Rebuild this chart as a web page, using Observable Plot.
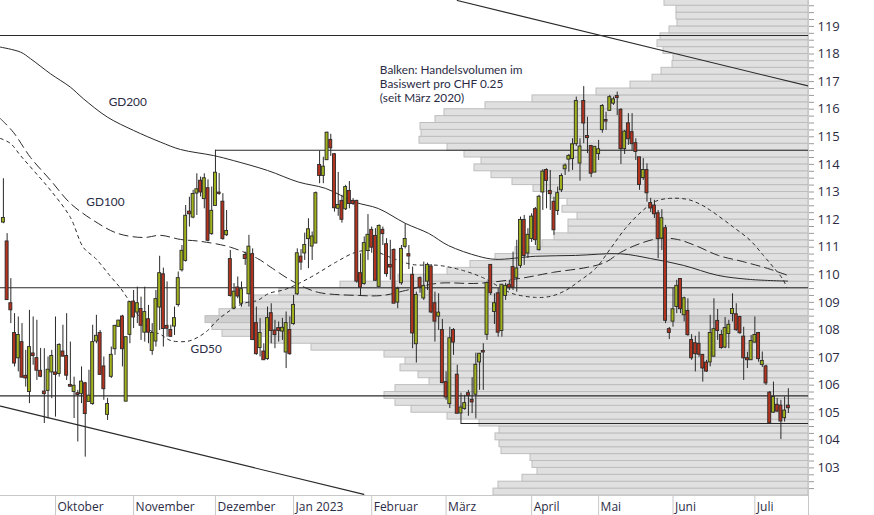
<!DOCTYPE html>
<html><head><meta charset="utf-8">
<script src="https://cdn.jsdelivr.net/npm/d3@7"></script>
<script src="https://cdn.jsdelivr.net/npm/@observablehq/plot@0.6"></script>
<style>
body{margin:0;background:#fff;}
#wrap{position:relative;width:874px;height:515px;overflow:hidden;}
#wrap svg{position:absolute;left:0;top:0;}
</style></head><body><div id="wrap"></div>
<script>
// trading-day index of first candle (0 = 3 Oct 2022)
const firstDay = -14;
const opens = [111.91,111.19,108.95,107.87,106.99,107.54,106.32,105.77,107.13,106.96,106.50,105.75,105.81,106.48,
106.44,106.42,107.20,107.04,105.99,105.77,105.69,105.69,106.05,105.41,105.33,107.60,107.87,106.66,104.94,106.32,107.32,108.13,108.47,105.42,107.84,
109.01,108.65,108.74,107.92,108.37,107.26,107.60,108.83,110.00,108.13,107.98,108.14,108.92,110.18,110.52,112.27,112.09,112.96,113.39,112.76,113.12,111.49,
112.51,112.96,112.63,111.45,110.55,108.79,109.52,108.97,110.70,109.31,110.73,108.23,107.36,107.20,106.96,108.59,107.96,108.05,107.96,107.20,107.98,
108.23,109.31,110.64,110.79,111.31,111.04,111.15,113.96,113.60,114.17,114.87,114.35,112.41,112.66,112.39,113.02,112.66,112.66,110.04,109.68,110.88,
111.61,111.39,109.58,111.61,111.09,110.34,110.88,109.01,109.71,111.03,110.73,109.98,107.50,109.86,109.16,109.77,110.28,108.95,108.50,107.98,
106.09,105.33,107.98,106.36,104.99,105.15,105.69,105.45,105.67,106.84,107.22,107.84,110.34,108.67,109.31,107.98,109.25,109.62,110.26,109.89,110.34,111.97,110.79,
111.31,112.36,110.91,113.00,113.78,113.02,112.63,112.33,113.08,113.84,114.19,114.21,114.75,114.05,116.28,115.01,114.65,113.72,
114.39,115.26,115.59,115.96,116.22,116.46,115.96,114.57,115.47,115.15,114.75,114.24,113.52,113.78,112.58,112.49,112.21,111.33,111.67,108.01,
108.32,108.85,109.83,108.55,108.67,107.62,107.50,107.48,107.08,106.80,106.84,107.05,108.31,107.80,107.38,107.87,108.59,108.55,108.45,107.74,106.96,106.92,
107.56,107.87,106.75,106.66,105.71,105.02,105.27,105.24,104.82,105.24];
const highs = [113.48,111.49,109.86,108.59,108.47,108.23,107.26,108.71,108.47,108.35,107.33,107.32,107.02,107.26,
108.47,107.50,108.17,108.59,107.56,106.29,105.81,106.66,106.10,106.54,108.17,108.53,107.98,107.02,105.52,107.38,108.17,108.35,108.53,107.74,109.01,
109.43,109.55,109.19,109.55,108.89,108.23,109.43,110.67,110.24,109.74,108.17,108.83,110.10,111.06,112.51,112.81,113.06,113.66,113.54,113.66,113.44,113.18,
114.51,113.67,112.94,112.33,110.88,109.68,109.92,109.74,110.82,111.43,110.94,108.83,108.41,107.50,108.83,108.95,108.35,108.29,108.42,108.65,108.47,
109.25,110.94,110.91,111.51,112.03,111.55,113.00,114.48,114.26,115.17,115.09,114.39,113.71,112.88,113.24,113.38,112.76,112.70,110.76,111.37,112.18,
111.73,111.67,111.81,111.73,111.31,111.25,110.94,109.55,111.06,111.85,111.06,110.28,109.37,109.92,110.46,110.42,110.37,109.37,109.31,108.38,
106.48,108.10,108.05,106.72,105.71,105.63,105.81,106.27,107.16,107.15,107.50,109.74,110.37,109.31,109.50,109.65,109.69,109.80,110.82,111.25,112.09,112.15,111.67,
112.21,112.44,112.88,113.81,113.84,113.78,112.81,113.18,113.66,114.02,114.36,114.93,116.44,114.93,116.82,115.71,114.69,114.62,
114.87,116.17,115.89,116.50,116.44,116.62,116.02,115.23,115.84,115.84,114.93,114.25,114.21,114.02,112.77,112.70,112.33,112.36,111.79,108.09,
109.50,109.80,109.86,109.19,109.13,107.83,107.77,107.92,107.08,106.90,108.53,109.13,108.74,107.98,108.45,108.35,109.31,108.95,108.49,108.10,107.19,107.80,
108.47,107.91,107.20,106.72,105.77,106.11,105.52,105.45,105.57,105.87];
const lows = [111.85,109.07,108.23,106.66,106.48,106.25,105.93,105.33,106.72,106.17,106.27,104.61,104.78,105.51,
104.84,106.29,107.02,106.17,105.93,104.79,103.94,105.33,103.39,105.39,105.27,107.50,106.36,105.45,104.72,106.24,107.08,108.13,106.66,105.39,107.50,
108.05,108.23,107.62,107.56,107.50,107.08,107.38,107.98,107.38,107.74,107.73,107.80,108.83,110.10,110.46,111.73,112.03,112.15,112.82,112.39,111.19,111.43,
112.48,112.88,111.25,111.39,109.19,108.73,109.13,108.83,110.34,108.83,107.62,107.08,107.02,106.90,106.90,107.50,107.32,107.56,107.62,106.60,107.08,
108.17,109.25,110.16,110.52,110.22,110.52,111.13,113.30,113.30,114.14,114.29,112.27,112.12,111.87,112.33,112.39,112.51,109.69,109.25,109.62,110.52,
110.78,109.77,109.55,111.06,109.91,109.80,108.95,108.77,109.62,110.94,110.19,107.32,106.80,109.33,109.07,109.43,108.59,107.56,107.98,106.05,
105.45,105.15,107.08,104.97,104.61,105.09,104.87,104.97,104.78,105.81,105.81,107.62,109.25,108.20,107.74,107.74,109.07,109.43,109.43,109.37,110.23,110.34,110.59,
111.17,111.06,110.86,112.33,112.39,112.33,111.43,112.15,112.98,113.60,113.72,113.78,114.65,113.39,114.75,114.39,113.52,113.71,
114.14,115.13,115.23,115.93,116.14,115.77,114.00,114.36,114.69,114.51,114.14,113.06,113.42,112.63,112.26,112.04,110.58,110.88,108.23,107.65,
108.10,108.59,108.59,108.29,107.77,106.90,106.48,107.01,106.11,106.46,106.66,107.01,107.62,107.30,107.32,107.32,108.29,107.95,107.84,106.17,106.60,106.90,
107.52,106.83,106.64,105.99,104.62,104.98,105.01,104.03,104.66,104.97];
const closes = [112.04,109.10,108.73,106.80,107.80,106.29,106.26,107.36,107.07,106.54,106.32,105.69,106.54,107.04,
106.39,107.44,107.05,106.36,105.96,105.96,105.66,106.11,104.97,105.60,107.54,107.77,106.39,105.87,105.30,107.08,108.13,108.32,107.32,107.72,108.99,
108.47,108.95,108.17,108.63,107.92,107.87,109.10,110.04,108.05,108.06,107.77,108.41,109.86,110.85,112.12,112.21,112.91,113.08,113.00,113.48,111.25,112.30,
113.68,112.95,111.31,111.57,109.25,109.37,109.23,109.46,110.59,111.00,107.65,107.14,107.87,106.92,108.41,107.98,107.83,107.98,108.06,108.23,107.14,
108.89,110.76,110.46,111.06,111.63,111.37,112.94,113.60,113.90,115.13,114.60,112.43,112.51,112.01,113.16,112.58,112.58,109.77,109.55,111.13,111.43,
111.00,109.80,111.75,111.49,110.04,110.28,108.97,109.47,110.92,111.28,110.68,107.89,109.25,109.55,109.58,110.34,108.65,108.32,108.61,106.09,
105.57,107.68,107.56,104.98,105.17,105.33,105.63,105.39,106.72,107.12,107.20,109.68,109.35,108.95,107.92,109.62,109.58,109.55,109.55,110.21,111.97,110.70,111.43,
112.09,111.27,112.81,113.72,113.42,112.94,111.63,112.94,113.56,113.94,114.29,114.71,116.28,114.63,115.50,114.97,113.68,114.62,
114.53,116.10,115.57,116.42,116.34,116.42,114.57,115.17,114.93,114.75,114.47,113.27,113.78,112.97,112.42,112.21,111.31,112.03,108.35,107.91,
108.73,109.58,108.77,109.13,107.83,106.99,107.14,107.12,106.62,106.51,107.87,108.01,107.98,107.36,108.05,108.17,108.74,108.01,107.90,106.99,106.92,107.58,
107.80,106.96,106.86,106.08,104.63,105.55,105.06,104.70,105.06,105.18];

// month axis
const monthStart = [0, 21, 43, 64, 85, 105, 128, 146, 166, 188];
const monthLabels = ["Oktober","November","Dezember","Jan 2023","Februar","März","April","Mai","Juni","Juli"];

// volume profile (price bucket lower bound, CHF 0.25 step)
const profileStep = 0.25;
const profileLevels = d3.range(0, 72).map(k => 102 + k * profileStep);
const profileVolumes = [315,310,286,271,276,278,307,309,313,309,329,361,397,413,424,413,379,390,408,403,
424,497,538,586,596,603,589,567,555,529,468,410,361,338,313,293,266,254,240,240,
231,246,241,257,275,296,317,334,327,344,361,389,387,388,373,364,323,276,212,178,
156,147,136,135,145,151,148,139,131,132,132,144];

// moving averages (trading-day index, price)
const gd200Idx = [-14.8,-9.4,-6.7,-1.3,4.0,7.5,14.0,21.0,28.2,33.6,42.5,47.8,57.0,65.3,72.6,80.6,86.8,94.1,100.3,105.6,113.7,118.3,129.0,139.8,151.9,159.9,168.8,178.0,186.8,196.8];
const gd200Val = [118.25,118.07,117.83,117.28,116.80,116.38,115.71,115.23,114.81,114.54,114.32,114.14,113.78,113.36,113.13,112.63,112.40,111.86,111.50,111.06,110.67,110.56,110.67,110.70,110.76,110.59,110.34,109.98,109.83,109.77];
const gd100Idx = [-14.8,-11.3,-6.7,-1.3,4.0,10.2,16.7,23.7,28.2,33.6,39.0,47.0,54.3,57.8,62.4,65.9,70.7,81.5,87.9,94.1,102.7,113.7,125.0,133.9,143.0,147.8,151.9,157.3,162.6,167.2,172.0,178.2,184.7,191.4,196.8];
const gd100Val = [115.66,115.16,114.25,113.42,112.59,111.97,111.50,111.35,111.43,111.28,111.21,111.00,110.59,110.28,109.87,109.61,109.36,109.25,109.25,109.43,109.69,109.69,109.87,110.09,110.27,110.45,110.81,111.14,111.32,111.28,111.06,110.70,110.48,110.23,109.98];
const gd50Idx = [-14.8,-12.1,-9.4,-5.9,-1.3,4.0,7.5,10.8,14.8,17.5,19.4,22.8,25.5,28.2,30.9,35.5,38.2,40.9,43.5,47.0,50.5,54.3,57.3,61.8,65.9,69.9,75.3,80.6,84.7,91.4,96.0,103.0,109.4,114.8,119.6,122.8,129.0,133.1,137.1,141.1,145.2,149.2,153.2,157.3,161.3,165.3,169.9,173.4,176.1,182.3,186.8,190.3,193.0,195.7,196.5];
const gd50Val = [114.94,114.76,114.32,113.78,113.06,112.08,110.99,110.59,109.94,109.51,109.14,108.42,107.98,107.84,107.62,107.59,107.73,107.98,108.35,108.71,108.96,109.07,109.32,109.47,109.72,110.01,110.45,110.81,110.88,110.56,110.37,110.34,110.16,109.90,109.54,109.32,109.18,109.22,109.43,109.80,110.23,110.95,111.68,112.26,112.66,112.77,112.73,112.55,112.33,111.72,111.24,110.70,110.27,109.80,109.54];

// support / resistance lines (level, first day or null = full width)
const hLineLevels = [118.67, 114.51, 109.53, 105.61, 104.61];
const hLineStart = [null, 43, null, null, 109];
// trend channel
const upperTrendIdx = [108.0, 202.42], upperTrendVal = [119.94, 116.84];
const lowerTrendIdx = [-14.78, 82.9], lowerTrendVal = [105.24, 102.04];

// chart annotations
const labelText = ["GD200", "GD100", "GD50", "Balken: Handelsvolumen im", "Basiswert pro CHF 0.25", "(seit März 2020)"];
const labelIdx = [14.3, 8.3, 36.3, 87.2, 87.2, 87.2];
const labelVal = [116.26, 112.62, 107.29, 117.41, 116.90, 116.39];

// ---- build tables ----
const xDomain = [-14.78, 202.42];
const yDomain = [102.0, 119.94];
const candles = opens.map((o, k) => ({i: firstDay + k, open: o, high: highs[k], low: lows[k], close: closes[k]}));
const profile = profileLevels.map((l, k) => ({level: l, vol: profileVolumes[k]}));
const maxVol = d3.max(profileVolumes);
const zip = (a, b) => a.map((x, k) => ({i: x, v: b[k]}));
const hLines = hLineLevels.map((l, k) => ({level: l, start: hLineStart[k] ?? xDomain[0]}));
const labels = labelText.map((t, k) => ({text: t, i: labelIdx[k], v: labelVal[k]}));

const OLIVE = "#a2b21c", RED = "#b3331f", INK = "#2a2a2a", TXT = "#2b2b45", GRID = "#c8c8c8";
const FONT = "'Open Sans', sans-serif";
const common = {width: 874, height: 515, marginLeft: 0, marginRight: 66, marginTop: 0, marginBottom: 20};

const volPlot = Plot.plot({
  ...common,
  x: {domain: [0, 808], reverse: true, axis: null},
  y: {domain: yDomain, axis: null},
  style: {background: "#fff"},
  marks: [
    Plot.rect(profile, {x1: () => 0, x2: "vol", y1: "level", y2: d => d.level + profileStep,
      fill: d => d.vol === maxVol ? "#cfcfcf" : "#e0e0e0", stroke: "#bdbdbd", strokeWidth: 1, clip: true})
  ]
});

const main = Plot.plot({
  ...common,
  x: {domain: xDomain, axis: null},
  y: {domain: yDomain, axis: null},
  style: {background: "transparent", fontFamily: FONT, fontSize: "12px", overflow: "visible"},
  marks: [
    Plot.ruleY([yDomain[0]], {stroke: GRID}),
    Plot.ruleX([xDomain[1]], {stroke: GRID}),
    Plot.axisX({anchor: "bottom", ticks: [...monthStart, xDomain[1]], tickSize: 20, tickFormat: () => "", stroke: GRID}),
    Plot.text(monthLabels, {x: (d, k) => monthStart[k], y: () => yDomain[0], text: d => d, dx: 2, dy: 12,
      textAnchor: "start", fill: TXT, fontSize: 12}),
    Plot.axisY({anchor: "right", ticks: d3.range(0, 72).map(k => 102.25 + k * 0.25), tickSize: 5, tickFormat: () => "", stroke: "#9a9a9a"}),
    Plot.axisY({anchor: "right", ticks: d3.range(103, 120), tickSize: 0, tickPadding: 9, tickFormat: d => String(d), fill: TXT, fontSize: 13}),
    Plot.ruleY(hLines, {y: "level", x1: "start", x2: () => xDomain[1], stroke: INK, strokeWidth: 1.1}),
    Plot.line(zip(upperTrendIdx, upperTrendVal), {x: "i", y: "v", stroke: INK, strokeWidth: 1.1, clip: true}),
    Plot.line(zip(lowerTrendIdx, lowerTrendVal), {x: "i", y: "v", stroke: INK, strokeWidth: 1.1, clip: true}),
    Plot.line(zip(gd200Idx, gd200Val), {x: "i", y: "v", curve: "catmull-rom", stroke: INK, strokeWidth: 1}),
    Plot.line(zip(gd100Idx, gd100Val), {x: "i", y: "v", curve: "catmull-rom", stroke: INK, strokeWidth: 1, strokeDasharray: "9,5"}),
    Plot.line(zip(gd50Idx, gd50Val), {x: "i", y: "v", curve: "catmull-rom", stroke: INK, strokeWidth: 1, strokeDasharray: "3,4"}),
    Plot.ruleX(candles, {x: "i", y1: "low", y2: "high", stroke: INK, strokeWidth: 1}),
    Plot.rect(candles, {x1: d => d.i - 0.4, x2: d => d.i + 0.4, y1: "open", y2: "close",
      insetTop: -0.5, insetBottom: -0.5,
      fill: d => d.close >= d.open ? OLIVE : RED, stroke: INK, strokeWidth: 0.9}),
    Plot.text(labels, {x: "i", y: "v", text: "text", textAnchor: "start", lineAnchor: "middle",
      fill: TXT, fontSize: 11.8, fontFamily: "Lato, 'Open Sans', sans-serif"})
  ]
});

const wrap = document.getElementById("wrap");
wrap.appendChild(volPlot);
wrap.appendChild(main);
</script>
</body></html>
